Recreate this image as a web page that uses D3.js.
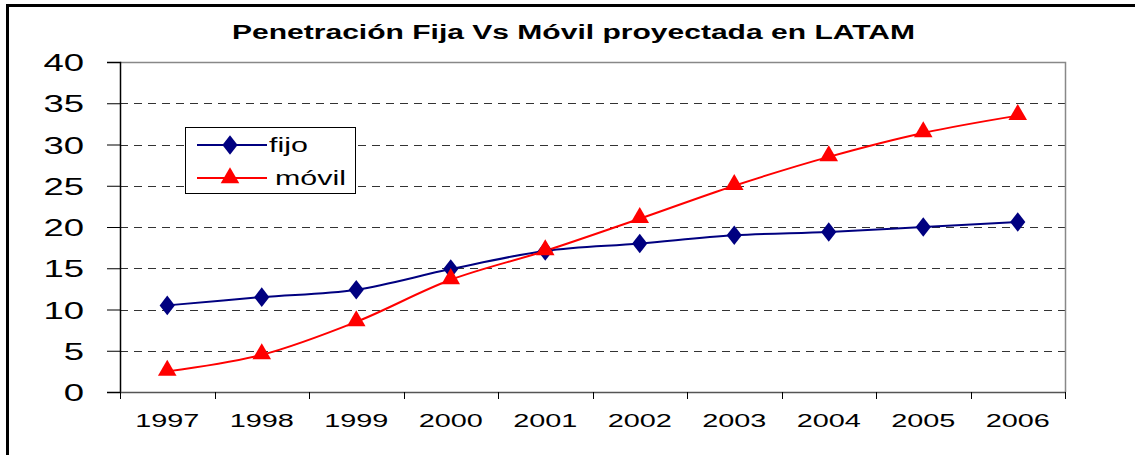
<!DOCTYPE html>
<html><head><meta charset="utf-8">
<script src="https://cdn.jsdelivr.net/npm/d3@7"></script>
<style>body{margin:0;background:#fff}svg{display:block}</style>
</head><body>
<svg id="c" width="1135" height="455"></svg>
<script>
const years = ["1997","1998","1999","2000","2001","2002","2003","2004","2005","2006"];
const fijo = [10.5, 11.5, 12.4, 14.9, 17.1, 18.0, 19.0, 19.4, 20.0, 20.6];
const movil = [2.5, 4.5, 8.5, 13.6, 17.1, 21.0, 25.0, 28.5, 31.4, 33.5];
const yTicks = [0,5,10,15,20,25,30,35,40];
const title = "Penetración Fija Vs Móvil proyectada en LATAM";
const seriesNames = ["fijo","móvil"];

const svg = d3.select("#c");
const font = "Liberation Sans, Arial, sans-serif";
const L=120, R=1065, T=62, B=392;
const SX = 1.52;

// outer frame
svg.append("line").attr("x1",7).attr("x2",1135).attr("y1",5.5).attr("y2",5.5).attr("stroke","#000").attr("stroke-width",3);
svg.append("line").attr("x1",7.5).attr("x2",7.5).attr("y1",4).attr("y2",455).attr("stroke","#000").attr("stroke-width",3);

svg.append("text").attr("x",232).attr("y",39)
  .attr("font-family",font).attr("font-weight","bold").attr("font-size",19.5)
  .attr("textLength",683).attr("lengthAdjust","spacingAndGlyphs").text(title);

const x = d3.scaleBand().domain(years).range([L,R]);
const y = d3.scaleLinear().domain([0,40]).range([B,T]);

// gridlines
svg.append("g").selectAll("line").data(yTicks.filter(d=>d>0&&d<40)).join("line")
  .attr("x1",L).attr("x2",R).attr("y1",d=>Math.round(y(d))+0.5).attr("y2",d=>Math.round(y(d))+0.5)
  .attr("stroke","#333").attr("stroke-dasharray","8,6");
// plot border top/right
svg.append("path").attr("d",`M${L},${T+0.5}H${R+0.5}V${B}`).attr("fill","none").attr("stroke","#888").attr("stroke-width",1.5);

// y axis
const ya = svg.append("g").attr("transform",`translate(${L},0)`)
  .call(d3.axisLeft(y).tickValues(yTicks).tickSize(13));
ya.select(".domain").attr("stroke","#000").attr("stroke-width",1.5);
ya.selectAll(".tick line").attr("stroke","#000");
ya.selectAll("text").attr("x",0).attr("dy","0.36em")
  .attr("transform",`translate(-36,0) scale(${SX},1)`)
  .attr("font-family",font).attr("font-size",24).attr("fill","#000");

// x axis
const xa = svg.append("g").attr("transform",`translate(0,${B})`)
  .call(d3.axisBottom(x).tickSize(0));
xa.select(".domain").attr("stroke","#555").attr("stroke-width",1.5);
xa.selectAll("text").attr("y",0).attr("dy",0)
  .attr("transform",`translate(0,35) scale(${SX},1)`)
  .attr("font-family",font).attr("font-size",19).attr("fill","#000");
svg.append("g").selectAll("line").data(years.concat(["end"])).join("line")
  .attr("x1",(d,i)=>Math.round(L+i*x.step())+0.5).attr("x2",(d,i)=>Math.round(L+i*x.step())+0.5)
  .attr("y1",B).attr("y2",B+7).attr("stroke","#000");

const cx = d=>x(d)+x.bandwidth()/2;
const line = d3.line().x((d,i)=>cx(years[i])).y(d=>y(d)).curve(d3.curveCatmullRom.alpha(0.5));

svg.append("path").datum(fijo).attr("d",line).attr("fill","none").attr("stroke","#000080").attr("stroke-width",2);
svg.append("path").datum(movil).attr("d",line).attr("fill","none").attr("stroke","#ff0000").attr("stroke-width",2);

const diamond = d3.symbol().type(d3.symbolDiamond).size(110);
const tri = d3.symbol().type(d3.symbolTriangle).size(150);
svg.append("g").selectAll("path").data(fijo).join("path")
  .attr("transform",(d,i)=>`translate(${cx(years[i])},${y(d)}) scale(1.35,1)`).attr("d",diamond).attr("fill","#000080");
svg.append("g").selectAll("path").data(movil).join("path")
  .attr("transform",(d,i)=>`translate(${cx(years[i])},${y(d)-1})`).attr("d",tri).attr("fill","#ff0000");

// legend
const lg = svg.append("g");
lg.append("rect").attr("x",185.5).attr("y",127.5).attr("width",170).attr("height",66).attr("fill","#fff").attr("stroke","#000").attr("stroke-width",1);
const colors=["#000080","#ff0000"];
seriesNames.forEach((n,i)=>{
  const yy = 145 + i*33;
  lg.append("line").attr("x1",197).attr("x2",267).attr("y1",yy).attr("y2",yy).attr("stroke",colors[i]).attr("stroke-width",2);
  lg.append("path").attr("transform",`translate(230,${yy})`+(i==0?" scale(1.35,1)":"")).attr("d",i==0?diamond:tri).attr("fill",colors[i]);
  lg.append("text").attr("transform",`translate(${i==0?269:275},${yy+7}) scale(${SX},1)`)
    .attr("font-family",font).attr("font-size",20).text(n);
});
</script>
</body></html>
